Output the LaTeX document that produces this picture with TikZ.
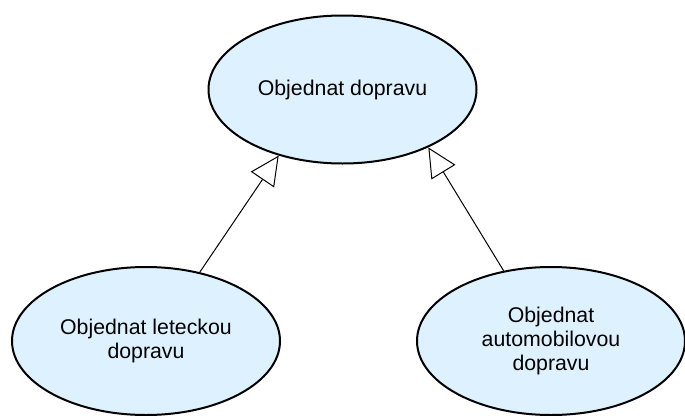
\documentclass[tikz,border=0pt]{standalone}
\usepackage{fontspec}
\setmainfont{Liberation Sans}
\usetikzlibrary{shapes.geometric,arrows.meta}
\definecolor{usecasefill}{RGB}{221,242,254}
\begin{document}
\begin{tikzpicture}[x=1pt,y=-1pt,
  usecase/.style={ellipse, draw=black, line width=2pt, fill=usecasefill,
    minimum width=268pt, minimum height=148pt, inner sep=0pt,
    align=center, font=\fontsize{21.3}{24}\selectfont},
  generalization/.style={draw=black, line width=1pt,
    -{Triangle[length=29pt, width=28pt, fill=white, line width=1pt]}}]
  \useasboundingbox (0,0) rectangle (685,415);
  % use cases
  \node[usecase] (order)  at (342.5,89.5) {Objednat dopravu};
  \node[usecase] (air)    at (146,341)    {Objednat leteckou\\dopravu};
  \node[usecase] (car)    at (551,341)    {Objednat\\automobilovou\\dopravu};
  % generalization arrows
  \draw[generalization] (air.52)  -- (order.226.3);
  \draw[generalization] (car.124.8) -- (order.326.8);
\end{tikzpicture}
\end{document}
